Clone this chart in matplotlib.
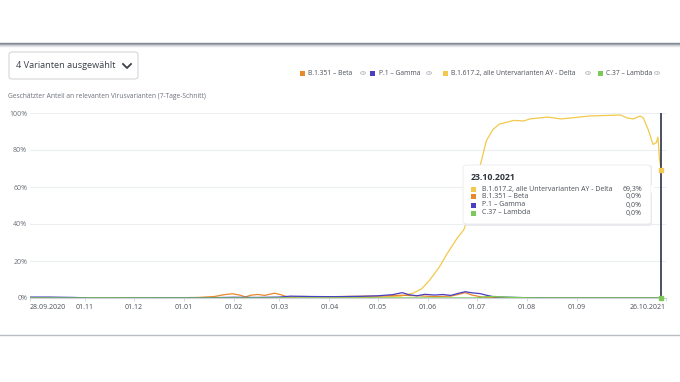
import matplotlib.pyplot as plt
from matplotlib.patches import FancyBboxPatch, Rectangle, Circle, Polygon
from matplotlib.lines import Line2D
import numpy as np

plt.rcParams['font.family'] = ['Open Sans', 'DejaVu Sans']

# ---- data (percent) ----
delta_dates = ["2020-09-28", "2021-04-01", "2021-04-20", "2021-05-02", "2021-05-15", "2021-05-23",
               "2021-05-28", "2021-06-02", "2021-06-08", "2021-06-13", "2021-06-19", "2021-06-23",
               "2021-06-26", "2021-06-29", "2021-07-03", "2021-07-07", "2021-07-11", "2021-07-15",
               "2021-07-24", "2021-07-30", "2021-08-03", "2021-08-14", "2021-08-22", "2021-08-28",
               "2021-09-09", "2021-09-28", "2021-10-02", "2021-10-06", "2021-10-10", "2021-10-12",
               "2021-10-15", "2021-10-18", "2021-10-20", "2021-10-21", "2021-10-22", "2021-10-23"]
delta_vals = [0, 0, 0.3, 0.5, 1.0, 2.7,
              5.0, 9.7, 16.8, 24.3, 32.4, 36.8,
              43.8, 56.8, 71, 85, 91, 94,
              96, 95.7, 96.8, 97.8, 96.8, 97.3,
              98.4, 98.9, 97.3, 96.8, 98.4, 97.3,
              91, 83, 84, 87, 75, 69.3]

beta_dates = ["2020-09-28", "2020-12-15", "2021-01-10", "2021-01-20", "2021-01-26", "2021-01-31",
              "2021-02-05", "2021-02-08", "2021-02-12", "2021-02-16", "2021-02-20", "2021-02-26",
              "2021-03-02", "2021-03-06", "2021-03-15", "2021-04-01", "2021-04-15", "2021-05-01",
              "2021-05-15", "2021-05-25", "2021-06-05", "2021-06-15", "2021-06-20", "2021-06-24",
              "2021-06-28", "2021-07-05", "2021-07-15", "2021-08-01", "2021-10-23"]
beta_vals = [0, 0, 0.3, 0.8, 1.8, 2.3,
             1.5, 0.6, 1.6, 1.9, 1.4, 2.6,
             1.8, 0.6, 0.8, 0.7, 0.9, 1.0,
             1.5, 1.2, 0.8, 1.0, 2.0, 2.9,
             1.6, 0.4, 0.1, 0, 0]

gamma_dates = ["2020-09-28", "2020-10-10", "2020-10-25", "2020-11-05", "2021-01-20", "2021-02-01",
               "2021-02-15", "2021-03-01", "2021-03-08", "2021-03-20", "2021-04-05", "2021-04-20",
               "2021-05-01", "2021-05-10", "2021-05-16", "2021-05-20", "2021-05-25", "2021-05-30",
               "2021-06-05", "2021-06-10", "2021-06-15", "2021-06-20", "2021-06-24", "2021-06-28",
               "2021-07-03", "2021-07-07", "2021-07-12", "2021-07-25", "2021-08-05", "2021-08-15",
               "2021-10-23"]
gamma_vals = [0.5, 0.5, 0.3, 0, 0.2, 0.4,
              0.3, 0.5, 1.0, 0.8, 0.7, 0.9,
              1.2, 1.8, 2.9, 1.8, 1.2, 2.0,
              1.6, 1.9, 1.4, 2.6, 3.4, 2.8,
              2.4, 1.5, 0.6, 0.3, 0.1, 0,
              0]

lambda_dates = ["2020-09-28", "2021-07-01", "2021-07-06", "2021-07-12", "2021-07-20", "2021-08-01",
                "2021-08-10", "2021-10-23"]
lambda_vals = [0, 0, 0.6, 0.8, 0.4, 0.1, 0, 0]

tick_dates = ["2020-09-28", "2020-11-01", "2020-12-01", "2021-01-01", "2021-02-01", "2021-03-01",
              "2021-04-01", "2021-05-01", "2021-06-01", "2021-07-01", "2021-08-01", "2021-09-01",
              "2021-10-26"]
tick_labels = ["28.09.2020", "01.11", "01.12", "01.01", "01.02", "01.03", "01.04", "01.05",
               "01.06", "01.07", "01.08", "01.09", "26.10.2021"]
y_ticks = [0, 20, 40, 60, 80, 100]

names = ["B.1.351 – Beta", "P.1 – Gamma", "B.1.617.2, alle Untervarianten AY - Delta", "C.37 – Lambda"]
colors = ["#e8892b", "#4a3fc2", "#f2c94c", "#7cc95a"]

tip_date = "23.10.2021"
tip_names = ["B.1.617.2, alle Untervarianten AY - Delta", "B.1.351 – Beta", "P.1 – Gamma", "C.37 – Lambda"]
tip_vals = ["69,3%", "0,0%", "0,0%", "0,0%"]
tip_colors = ["#f2c94c", "#e8892b", "#4a3fc2", "#7cc95a"]

W, H = 680, 382
fig = plt.figure(figsize=(W / 100, H / 100), dpi=100)
fig.patch.set_facecolor("white")


def fx(x):
    return x / W


def fy(y):
    return 1 - y / H


# ---- frame lines top / bottom ----
for i, c in enumerate(["#7d848e", "#9aa0a8", "#c3c7cc", "#e3e5e8"]):
    fig.add_artist(Line2D([0, 1], [fy(43 + i), fy(43 + i)], color=c, lw=1, transform=fig.transFigure))
fig.add_artist(Line2D([0, 1], [fy(335), fy(335)], color="#b9bdc3", lw=1, transform=fig.transFigure))

# ---- dropdown ----
fig.add_artist(FancyBboxPatch((fx(9), fy(79)), fx(129), 27 / H,
                              boxstyle="round,pad=0,rounding_size=0.006",
                              transform=fig.transFigure, fc="white", ec="#d3d6db", lw=0.8))
fig.text(fx(16), fy(66), "4 Varianten ausgewählt", fontsize=6.6, color="#3a3f47",
         va="center", ha="left")
fig.add_artist(Line2D([fx(123), fx(127), fx(131)], [fy(64), fy(68), fy(64)],
                      color="#3a3f47", lw=1.3, transform=fig.transFigure))

# ---- legend ----
leg_x = [302, 373, 445, 600]
info_x = [363, 429, 588, 657]
for nm, c, lx, ix in zip(names, colors, leg_x, info_x):
    fig.add_artist(Rectangle((fx(lx - 2.5), fy(75.5)), 5 / W, 5 / H, fc=c, ec="none",
                             transform=fig.transFigure))
    fig.text(fx(lx + 6), fy(75), nm, fontsize=4.9, color="#4a4f57", va="baseline", ha="left")
    fig.add_artist(Circle((fx(ix), fy(73)), 2.6 / W, fc="#f3f4f6", ec="#b5b9bf", lw=0.5,
                          transform=fig.transFigure))
    fig.text(fx(ix), fy(73), "i", fontsize=3, color="#9a9ea5", va="center", ha="center")

fig.text(fx(8), fy(97), "Geschätzter Anteil an relevanten Virusvarianten (7-Tage-Schnitt)",
         fontsize=4.8, color="#6b7079", va="center", ha="left")

# ---- chart ----
ax = fig.add_axes([fx(30), fy(298), 636 / W, 185 / H])
ax.set_facecolor("none")


def d(lst):
    return np.array(lst, dtype="datetime64[D]")


ax.plot(d(delta_dates), delta_vals, color=colors[2], lw=0.9, zorder=3)
ax.plot(d(beta_dates), beta_vals, color=colors[0], lw=0.9, zorder=4)
ax.plot(d(gamma_dates), gamma_vals, color=colors[1], lw=0.9, zorder=5)
ax.plot(d(lambda_dates), lambda_vals, color=colors[3], lw=1.0, zorder=6)

ax.set_xlim(np.datetime64("2020-09-28"), np.datetime64("2021-10-26"))
ax.set_ylim(0, 100)
ax.set_yticks(y_ticks)
ax.set_yticklabels([f"{v}%" for v in y_ticks])
ax.yaxis.grid(True, color="#eceef1", lw=0.8)
ax.set_axisbelow(True)
for s in ["top", "right", "left"]:
    ax.spines[s].set_visible(False)
ax.spines["bottom"].set_color("#cfd3d8")
ax.spines["bottom"].set_linewidth(0.8)
ax.tick_params(axis="y", length=0, pad=2, labelsize=5, labelcolor="#6b7079")
ax.set_xticks(d(tick_dates))
ax.set_xticklabels(tick_labels)
ax.tick_params(axis="x", length=2, width=0.6, color="#cfd3d8", pad=2,
               labelsize=5, labelcolor="#4a4f57")
xl = ax.get_xticklabels()
xl[0].set_ha("left")
xl[-1].set_ha("right")

# cursor
cur = np.datetime64("2021-10-23")
ax.axvline(cur, color="#2b3245", lw=1.2, zorder=7)
ax.plot([cur], [delta_vals[-1]], "s", color=colors[2], ms=3, zorder=8, clip_on=False)
ax.plot([cur], [0], "s", color=colors[3], ms=3, zorder=8, clip_on=False)

# ---- tooltip ----
shadow = FancyBboxPatch((fx(464), fy(226)), fx(188), 61 / H,
                        boxstyle="round,pad=0,rounding_size=0.006",
                        transform=fig.transFigure, fc="#e9ebee", ec="none", zorder=9)
fig.add_artist(shadow)
fig.add_artist(FancyBboxPatch((fx(463), fy(224)), fx(188), 59 / H,
                              boxstyle="round,pad=0,rounding_size=0.006",
                              transform=fig.transFigure, fc="white", ec="#e6e8eb", lw=0.5, zorder=10))
fig.add_artist(Polygon([[fx(651), fy(185)], [fx(656), fy(189)], [fx(651), fy(193)]],
                       closed=True, fc="white", ec="none", transform=fig.transFigure, zorder=11))
fig.text(fx(471), fy(177), tip_date, fontsize=6.3, fontweight="bold", color="#2f343b",
         va="center", ha="left", zorder=12)
for i, (nm, v, c) in enumerate(zip(tip_names, tip_vals, tip_colors)):
    yy = 189 + 8 * i
    fig.add_artist(Rectangle((fx(471), fy(yy + 2.5)), 5 / W, 5 / H, fc=c, ec="none",
                             transform=fig.transFigure, zorder=12))
    fig.text(fx(482), fy(yy), nm, fontsize=5, color="#4a4f57", va="center", ha="left", zorder=12)
    fig.text(fx(642), fy(yy), v, fontsize=5, color="#4a4f57", va="center", ha="right", zorder=12)

fig.savefig("out.png", dpi=100)
